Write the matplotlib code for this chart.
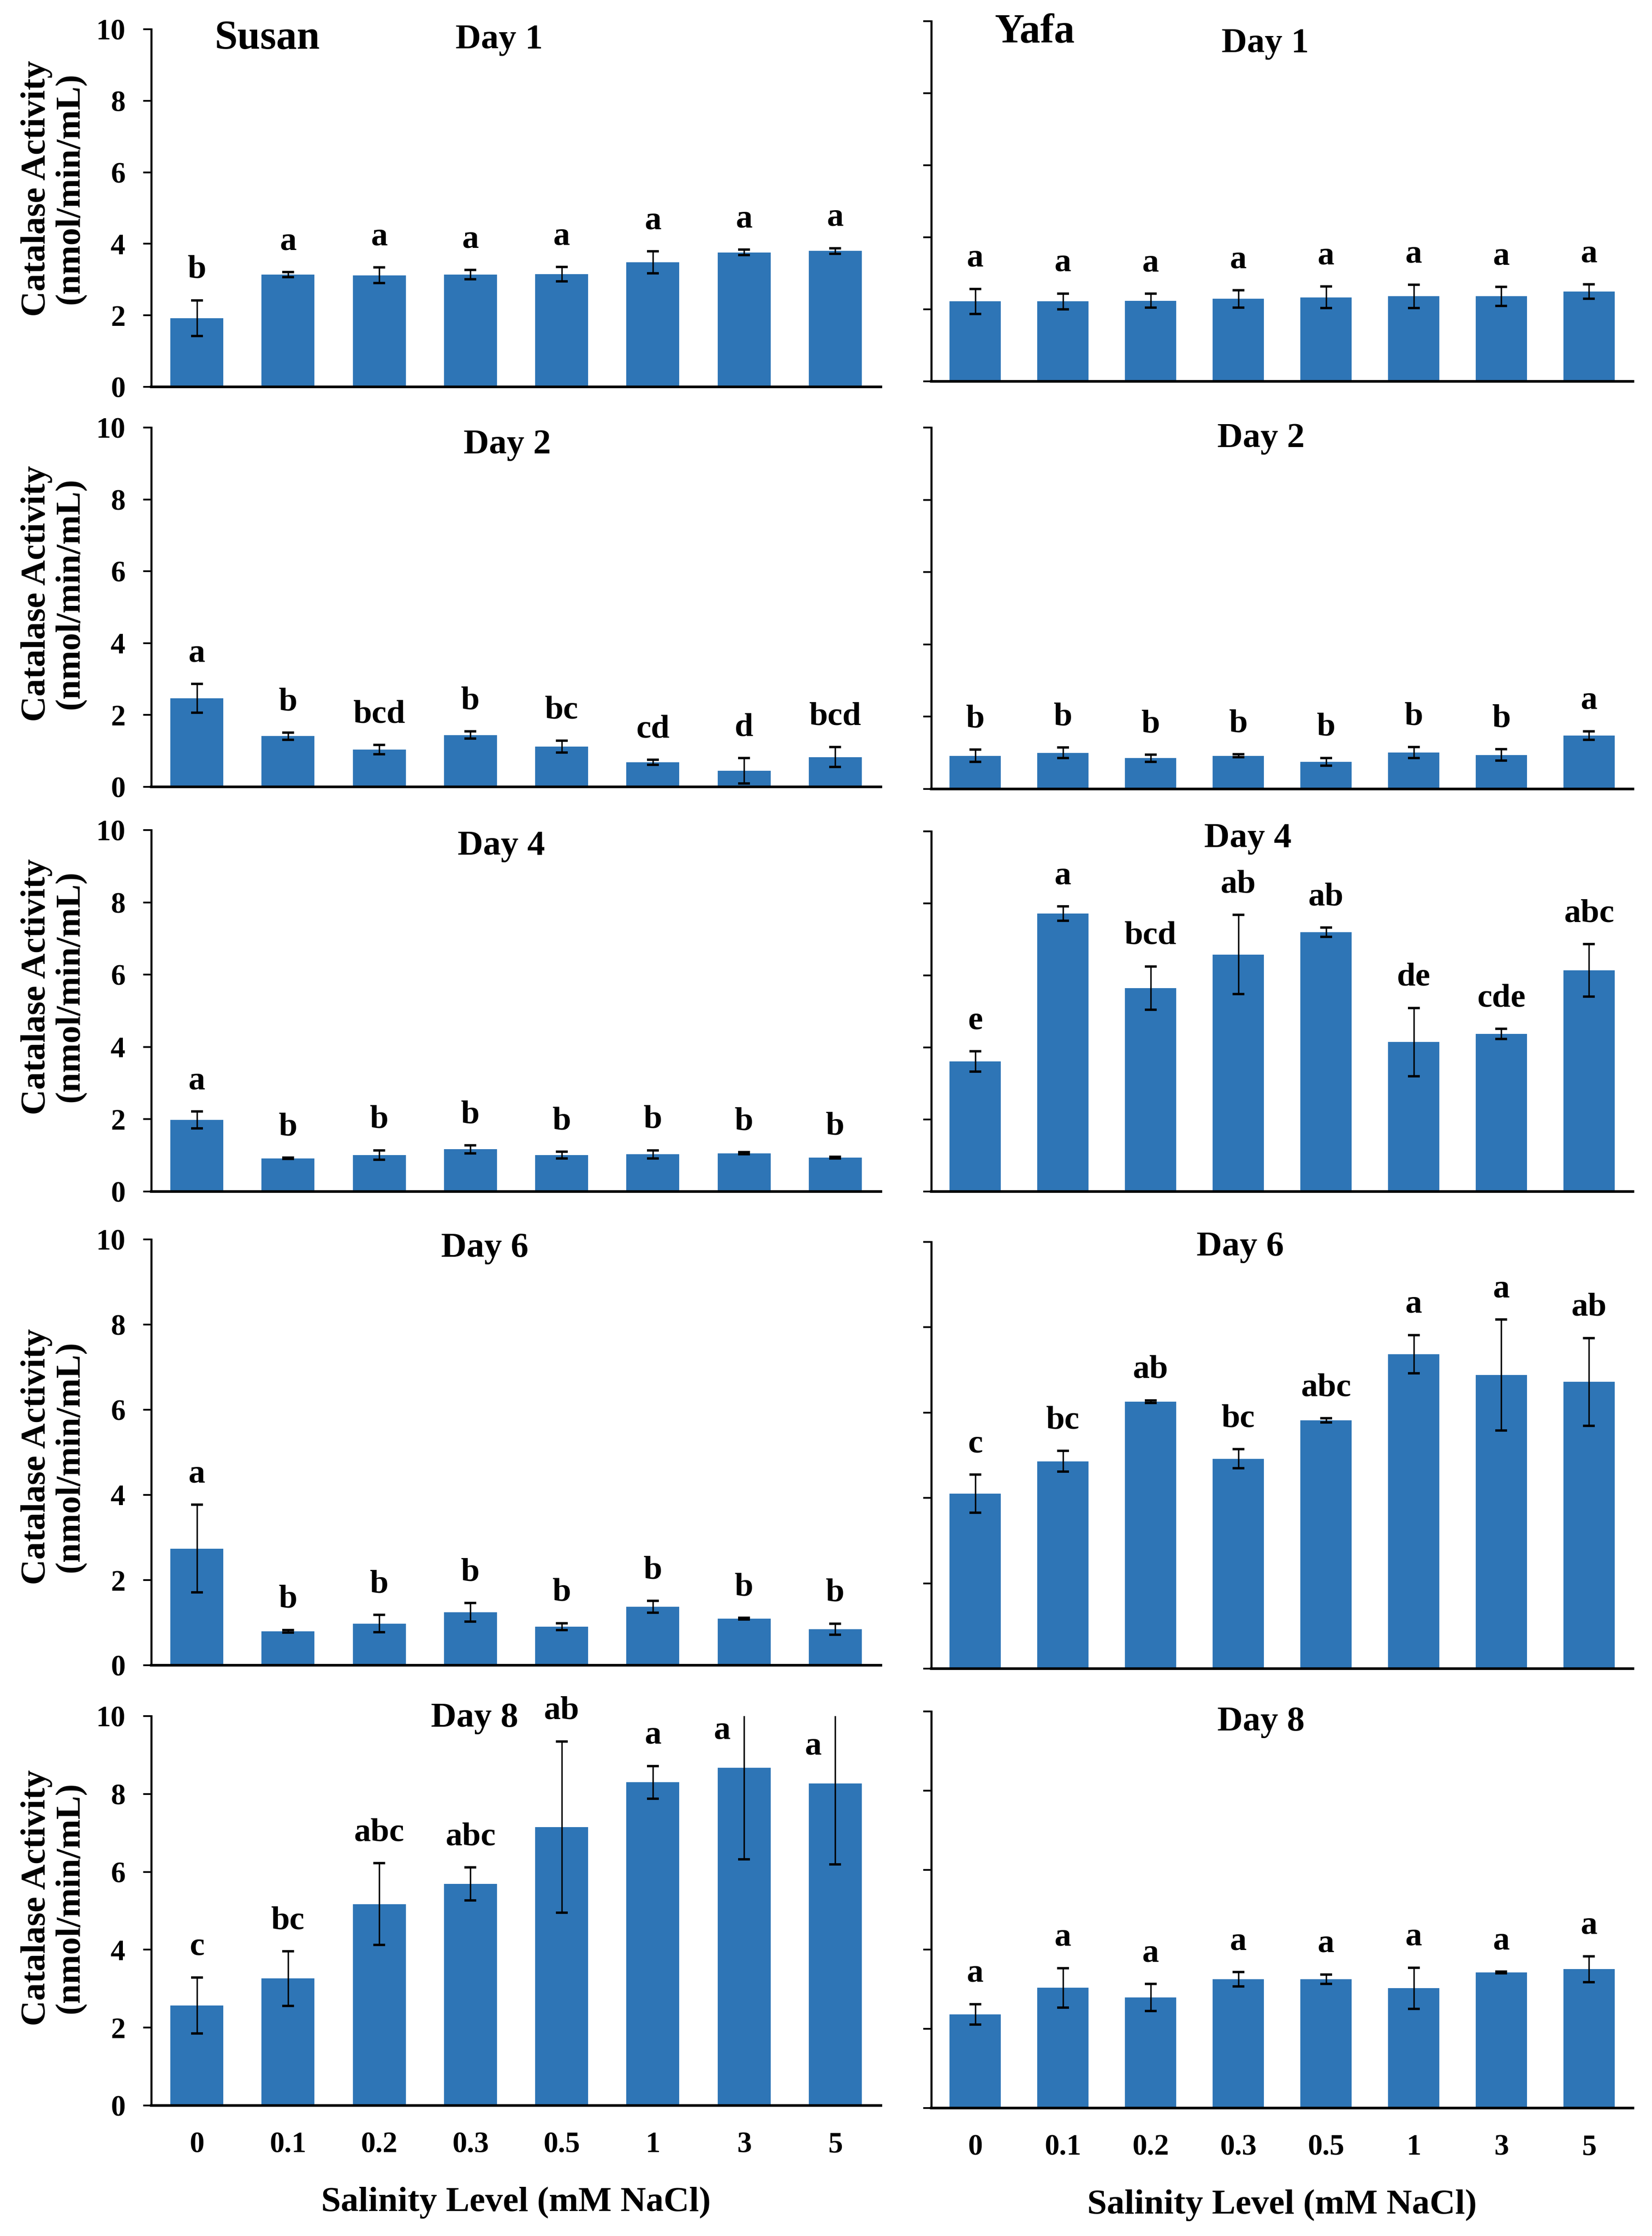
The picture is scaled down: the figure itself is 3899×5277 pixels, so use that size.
import matplotlib
matplotlib.use("Agg")
import matplotlib.pyplot as plt
import numpy as np

plt.rcParams['font.family'] = ['Liberation Serif', 'DejaVu Serif']
plt.rcParams['font.weight'] = 'bold'

# ---------------- data ----------------
concentrations = ['0', '0.1', '0.2', '0.3', '0.5', '1', '3', '5']
days = ['Day 1', 'Day 2', 'Day 4', 'Day 6', 'Day 8']
cultivars = ['Susan', 'Yafa']

susan_mean = [
    [1.92, 3.14, 3.12, 3.14, 3.15, 3.48, 3.76, 3.80],
    [2.46, 1.41, 1.04, 1.44, 1.12, 0.68, 0.45, 0.83],
    [1.98, 0.92, 1.01, 1.17, 1.01, 1.03, 1.06, 0.94],
    [2.74, 0.80, 0.98, 1.24, 0.91, 1.37, 1.09, 0.85],
    [2.57, 3.26, 5.17, 5.69, 7.15, 8.30, 8.67, 8.27],
]
susan_err = [
    [0.50, 0.07, 0.22, 0.13, 0.20, 0.31, 0.08, 0.08],
    [0.40, 0.10, 0.13, 0.10, 0.16, 0.07, 0.35, 0.28],
    [0.23, 0.02, 0.13, 0.11, 0.09, 0.11, 0.03, 0.02],
    [1.03, 0.03, 0.20, 0.22, 0.08, 0.14, 0.02, 0.13],
    [0.72, 0.70, 1.05, 0.42, 2.20, 0.42, 2.35, 2.08],
]
susan_letters = [
    ['b', 'a', 'a', 'a', 'a', 'a', 'a', 'a'],
    ['a', 'b', 'bcd', 'b', 'bc', 'cd', 'd', 'bcd'],
    ['a', 'b', 'b', 'b', 'b', 'b', 'b', 'b'],
    ['a', 'b', 'b', 'b', 'b', 'b', 'b', 'b'],
    ['c', 'bc', 'abc', 'abc', 'ab', 'a', 'a', 'a'],
]

yafa_mean = [
    [2.22, 2.22, 2.24, 2.29, 2.33, 2.36, 2.36, 2.49],
    [0.92, 1.00, 0.85, 0.92, 0.75, 1.01, 0.94, 1.48],
    [3.61, 7.72, 5.65, 6.58, 7.20, 4.15, 4.38, 6.14],
    [4.10, 4.86, 6.26, 4.92, 5.82, 7.37, 6.88, 6.72],
    [2.36, 3.03, 2.79, 3.25, 3.25, 3.02, 3.42, 3.50],
]
yafa_err = [
    [0.35, 0.22, 0.19, 0.24, 0.30, 0.32, 0.26, 0.20],
    [0.17, 0.15, 0.10, 0.04, 0.11, 0.15, 0.16, 0.12],
    [0.28, 0.20, 0.60, 1.10, 0.13, 0.95, 0.14, 0.73],
    [0.45, 0.24, 0.03, 0.22, 0.05, 0.45, 1.30, 1.03],
    [0.26, 0.50, 0.34, 0.18, 0.12, 0.52, 0.02, 0.33],
]
yafa_letters = [
    ['a', 'a', 'a', 'a', 'a', 'a', 'a', 'a'],
    ['b', 'b', 'b', 'b', 'b', 'b', 'b', 'a'],
    ['e', 'a', 'bcd', 'ab', 'ab', 'de', 'cde', 'abc'],
    ['c', 'bc', 'ab', 'bc', 'abc', 'a', 'a', 'ab'],
    ['a', 'a', 'a', 'a', 'a', 'a', 'a', 'a'],
]

ylabel_text = 'Catalase Activity\n(nmol/min/mL)'
xlabel_text = 'Salinity Level (mM NaCl)'
yticks = [0, 2, 4, 6, 8, 10]

# ---------------- layout (pixel boxes) ----------------
W, H = 3899, 5277
fig = plt.figure(figsize=(W / 100, H / 100), dpi=100)

col_x = [(357, 2079), (2198, 3854)]
row_y = [
    [(69, 913), (1009, 1857), (1959, 2812), (2925, 3930), (4050, 4969)],
    [(50, 900), (1009, 1862), (1962, 2812), (2931, 3938), (4039, 4975)],
]
# title placement: x in axes fraction, vertical shift (px above axes top)
title_x = [[0.477, 0.488, 0.48, 0.457, 0.443], [0.476, 0.47, 0.451, 0.44, 0.47]]
title_dy = [[8, -8, -5, 12, 28], [-20, 7, 16, 21, 8]]
ylabel_y = [0.555, 0.538, 0.567, 0.49, 0.533]
cult_x = [0.159, 0.147]
cult_dy = [17, 13]

bar_color = '#2E75B6'
x = np.arange(len(concentrations))

means_all = [susan_mean, yafa_mean]
errs_all = [susan_err, yafa_err]
letters_all = [susan_letters, yafa_letters]

for c in range(2):
    for r in range(5):
        x0, x1 = col_x[c]
        yt, yb = row_y[c][r]
        ax = fig.add_axes([x0 / W, 1 - yb / H, (x1 - x0) / W, (yb - yt) / H])
        m = np.array(means_all[c][r])
        e = np.array(errs_all[c][r])
        ax.bar(x, m, width=0.58, color=bar_color, zorder=2)
        ax.errorbar(x, m, yerr=e, fmt='none', ecolor='black', elinewidth=2.5,
                    capsize=10, capthick=4, zorder=3)
        ax.set_xlim(-0.5, len(concentrations) - 0.5)
        ax.set_ylim(0, 10)
        ax.set_yticks(yticks)
        for s in ['top', 'right']:
            ax.spines[s].set_visible(False)
        ax.spines['left'].set_linewidth(3.5)
        ax.spines['bottom'].set_linewidth(4.5)
        ax.tick_params(axis='y', direction='out', length=14, width=3, pad=30,
                       labelsize=50)
        ax.tick_params(axis='x', length=0, pad=44, labelsize=50)
        if c == 0:
            ax.set_yticklabels([str(t) for t in yticks], fontweight='bold')
            ax.text(-0.134, ylabel_y[r], ylabel_text, transform=ax.transAxes,
                    rotation=90, ha='center', va='center', fontsize=60,
                    fontweight='bold', linespacing=1.08, multialignment='center')
        else:
            ax.set_yticklabels([])
        if r == 4:
            ax.set_xticks(x)
            ax.set_xticklabels(concentrations, fontweight='bold')
            ax.set_xlabel(xlabel_text, fontsize=60, fontweight='bold', labelpad=48)
        else:
            ax.set_xticks([])
        # day title near top of panel
        ax.annotate(days[r], (title_x[c][r], 1.0), xycoords='axes fraction',
                    xytext=(0, title_dy[c][r] * 0.72 + 3), textcoords='offset points',
                    ha='center', va='top', fontsize=60, fontweight='bold',
                    annotation_clip=False)
        if r == 0:
            ax.annotate(cultivars[c], (cult_x[c], 1.0), xycoords='axes fraction',
                        xytext=(0, cult_dy[c] * 0.72 + 3), textcoords='offset points',
                        ha='center', va='top', fontsize=70, fontweight='bold',
                        annotation_clip=False)
        # significance letters
        for i, (mi, ei, lab) in enumerate(zip(m, e, letters_all[c][r])):
            top = mi + ei
            if top > 10:
                ax.annotate(lab, (i - 0.24, mi + 0.75), ha='center',
                            va='baseline', fontsize=57, fontweight='bold',
                            annotation_clip=False)
            else:
                ax.annotate(lab, (i, top), xytext=(0, 38),
                            textcoords='offset points', ha='center',
                            va='baseline', fontsize=57, fontweight='bold',
                            annotation_clip=False)

fig.savefig('out.png', dpi=100, facecolor='white')
